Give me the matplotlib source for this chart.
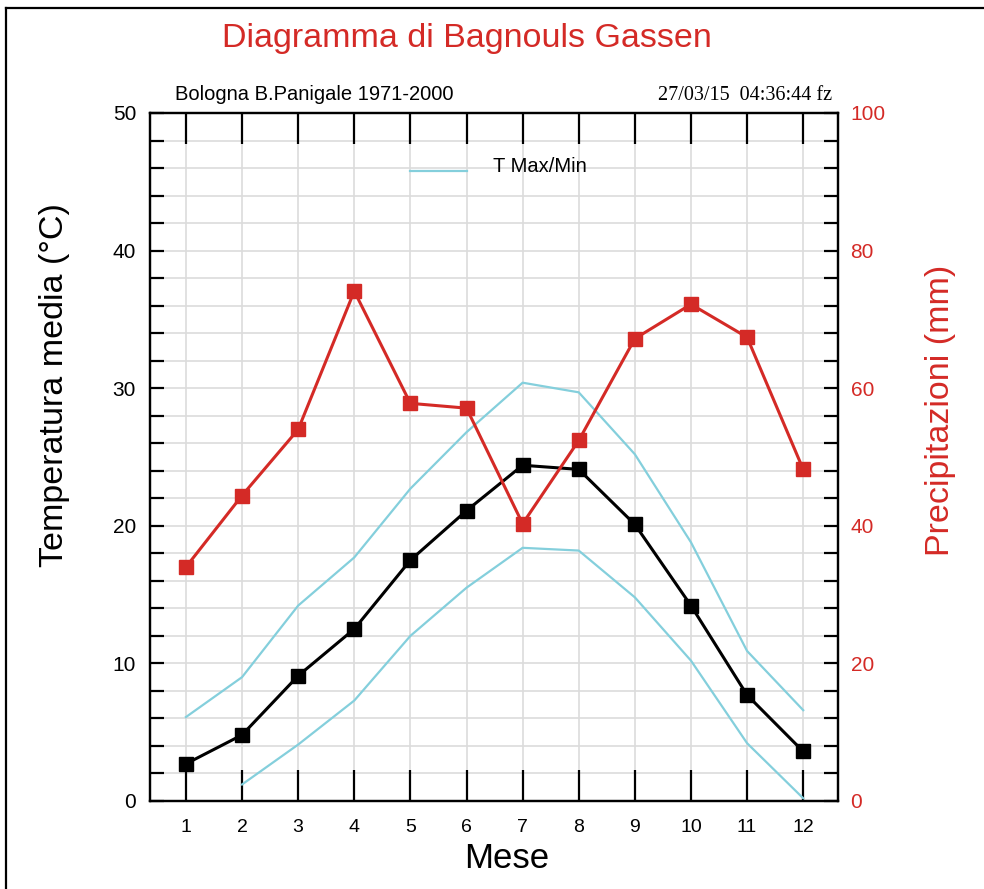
import numpy as np
import matplotlib
matplotlib.use('Agg')
import matplotlib.pyplot as plt
from matplotlib.lines import Line2D
from matplotlib.ticker import MultipleLocator

plt.rcParams['font.family'] = ['Liberation Sans', 'DejaVu Sans']

MONTHS = list(range(1, 13))
T_MEAN = [2.7, 4.8, 9.1, 12.5, 17.5, 21.1, 24.4, 24.1, 20.1, 14.2, 7.7, 3.6]
T_MAX = [6.1, 9.0, 14.2, 17.7, 22.7, 26.8, 30.4, 29.7, 25.2, 18.8, 10.9, 6.6]
T_MIN = [np.nan, 1.2, 4.1, 7.3, 12.0, 15.5, 18.4, 18.2, 14.8, 10.2, 4.2, 0.2]
PRECIP = [34.0, 44.4, 54.0, 74.1, 57.8, 57.1, 40.3, 52.4, 67.2, 72.2, 67.4, 48.2]

TITLE = 'Diagramma di Bagnouls Gassen'
STATION = 'Bologna B.Panigale 1971-2000'
STAMP = '27/03/15  04:36:44 fz'

RED = '#d42a26'
CYAN = '#84cfdc'
GRID = '#dcdcdc'

W, H = 984, 889
fig = plt.figure(figsize=(W / 100, H / 100), dpi=100)

# partial frame around the picture
fig.add_artist(Line2D([6 / W, 6 / W], [0, 1 - 8 / H], color='black', lw=1.6, transform=fig.transFigure))
fig.add_artist(Line2D([6 / W, 1], [1 - 8 / H, 1 - 8 / H], color='black', lw=1.6, transform=fig.transFigure))

ax = fig.add_axes([150 / W, 1 - 801 / H, 688 / W, 688 / H])
ax2 = ax.twinx()

ax.set_xlim(0.36, 12.62)
ax.set_ylim(0, 50)
ax2.set_ylim(0, 100)

# grid
for m in MONTHS:
    ax.axvline(m, color=GRID, lw=1.2, zorder=0)
for y in np.arange(2, 50, 2):
    ax.axhline(y, color=GRID, lw=1.2, zorder=0)

ax.plot(MONTHS, T_MAX, color=CYAN, lw=1.6, zorder=2)
ax.plot(MONTHS, T_MIN, color=CYAN, lw=1.6, zorder=2)
ax.plot(MONTHS, T_MEAN, color='black', lw=2.2, marker='s', ms=10, zorder=3)
ax2.plot(MONTHS, PRECIP, color=RED, lw=2.2, marker='s', ms=10, mfc=RED, mec=RED, zorder=3)

# legend entry drawn by hand like the original
ax.add_artist(Line2D([(410 - 150) / 688, (467 - 150) / 688], [1 - (171 - 113) / 688] * 2,
                     color=CYAN, lw=1.6, transform=ax.transAxes))
ax.text((493 - 150) / 688, 1 - (166 - 113) / 688, 'T Max/Min', transform=ax.transAxes,
        fontsize=14.5, va='center', ha='left')

# ticks
ax.set_xticks(MONTHS)
ax.tick_params(axis='x', direction='in', length=22, width=1.6, labelsize=14, pad=13,
               top=True)
ax.yaxis.set_major_locator(MultipleLocator(10))
ax.yaxis.set_minor_locator(MultipleLocator(2))
ax.tick_params(axis='y', which='both', direction='in', length=10, width=1.6, labelsize=15, pad=10)
ax2.yaxis.set_major_locator(MultipleLocator(20))
ax2.yaxis.set_minor_locator(MultipleLocator(4))
ax2.tick_params(axis='y', which='both', direction='in', length=10, width=1.6, labelsize=15, pad=9,
                labelcolor=RED)
for sp in ax.spines.values():
    sp.set_linewidth(1.6)
for sp in ax2.spines.values():
    sp.set_linewidth(1.6)

# axis titles placed as in the original (not centred on the axes)
fig.text(507 / W, 1 - 858 / H, 'Mese', fontsize=25, ha='center', va='center')
fig.text(55 / W, 1 - 385 / H, 'Temperatura media (°C)', fontsize=24.5, rotation=90,
         ha='center', va='center')
fig.text(940 / W, 1 - 410 / H, 'Precipitazioni (mm)', fontsize=24.5, rotation=90,
         ha='center', va='center', color=RED)

fig.text(467 / W, 1 - 38 / H, TITLE, color=RED, fontsize=24.5, ha='center', va='center')
fig.text(175 / W, 1 - 95 / H, STATION, fontsize=14.5, ha='left', va='center')
fig.text(832 / W, 1 - 95 / H, STAMP, fontsize=14.5, ha='right', va='center',
         family=['Liberation Serif', 'DejaVu Serif'])

fig.savefig('out.png', dpi=100)
